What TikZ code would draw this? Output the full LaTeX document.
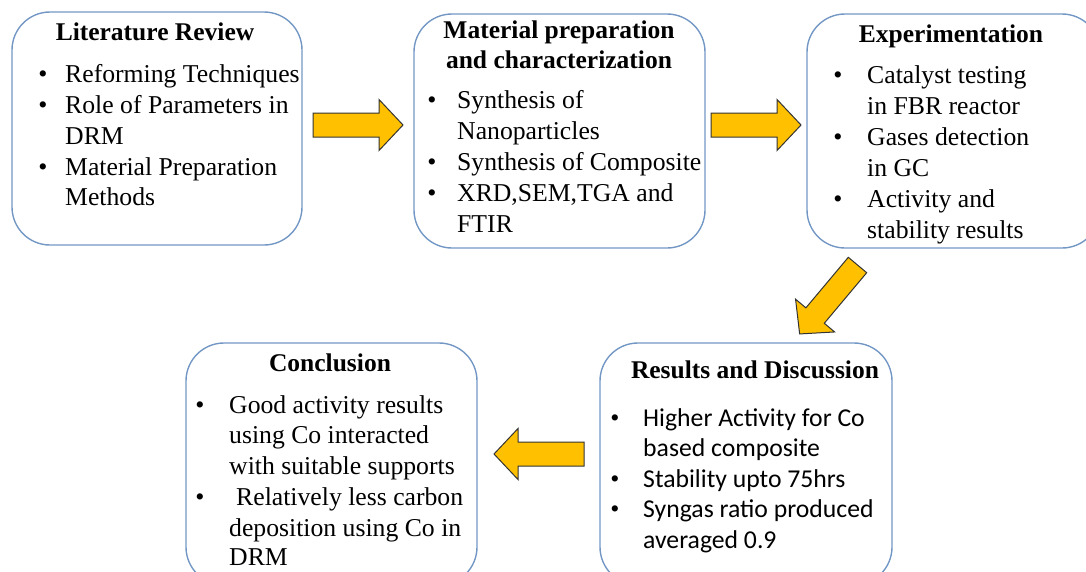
\documentclass[tikz,border=0pt]{standalone}
\usepackage{fontspec}
\setmainfont{Liberation Serif}
\newfontfamily\calibri{Carlito}
\usetikzlibrary{positioning}

\definecolor{boxblue}{HTML}{7397C4}
\definecolor{arrowgold}{HTML}{FFC000}

\tikzset{
  stage/.style={draw=boxblue, line width=1.4pt, rounded corners=38pt, inner sep=0pt},
  title/.style={font=\fontsize{25.5}{31}\selectfont\bfseries, anchor=base, inner sep=0pt},
  item/.style={font=\fontsize{25.7}{31}\selectfont, anchor=base west, inner sep=0pt},
  sitem/.style={font=\fontsize{25.7}{31}\selectfont\calibri, anchor=base west, inner sep=0pt},
  dot/.style={font=\fontsize{26}{31}\selectfont, anchor=base, inner sep=0pt},
  fatarrow/.pic={
    \draw[fill=arrowgold, draw=black!80, line width=1pt, line join=miter]
      (0,-12) -- (66,-12) -- (66,-25.5) -- (90,0) -- (66,25.5) -- (66,12) -- (0,12) -- cycle;
  }
}

\begin{document}
\begin{tikzpicture}[x=1pt, y=-1pt]
\useasboundingbox (0,0) rectangle (1086,571);

% --- Stage boxes ---
\node[stage, minimum width=290pt, minimum height=233pt] (litrev) at (157,128.5) {};
\node[stage, minimum width=291pt, minimum height=234pt] (matprep) at (559.5,131) {};
\node[stage, minimum width=293pt, minimum height=234pt] (expt) at (953.5,131) {};
\node[stage, minimum width=292pt, minimum height=242pt] (results) at (746,464) {};
\node[stage, minimum width=291pt, minimum height=242pt] (concl) at (331.5,464) {};

% --- Literature Review ---
\node[title] (t1) at (155,40) {Literature Review};
\node[dot] (d11) at (43,82) {•};
\node[item] (l11) at (65,82) {Reforming Techniques};
\node[dot] (d12) at (43,113) {•};
\node[item] (l12) at (65,113) {Role of Parameters in};
\node[item] (l13) at (65,144) {DRM};
\node[dot] (d13) at (43,175) {•};
\node[item] (l14) at (65,175) {Material Preparation};
\node[item] (l15) at (65,205) {Methods};

% --- Material preparation ---
\node[title] (t2a) at (559,38) {Material preparation};
\node[title] (t2b) at (559,68) {and characterization};
\node[dot] (d21) at (432,108) {•};
\node[item] (l21) at (457,108) {Synthesis of};
\node[item] (l22) at (457,139) {Nanoparticles};
\node[dot] (d22) at (432,170) {•};
\node[item] (l23) at (457,170) {Synthesis of Composite};
\node[dot] (d23) at (432,201) {•};
\node[item] (l24) at (457,201) {XRD,SEM,TGA and};
\node[item] (l25) at (457,232) {FTIR};

% --- Experimentation ---
\node[title] (t3) at (951,42) {Experimentation};
\node[dot] (d31) at (838,83) {•};
\node[item] (l31) at (867,83) {Catalyst testing};
\node[item] (l32) at (867,114) {in FBR reactor};
\node[dot] (d32) at (838,145) {•};
\node[item] (l33) at (867,145) {Gases detection};
\node[item] (l34) at (867,176) {in GC};
\node[dot] (d33) at (838,207) {•};
\node[item] (l35) at (867,207) {Activity and};
\node[item] (l36) at (867,238) {stability results};

% --- Results and Discussion ---
\node[title] (t4) at (755,378) {Results and Discussion};
\node[dot] (d41) at (615,426) {•};
\node[sitem] (l41) at (643,426) {Higher Activity for Co};
\node[sitem] (l42) at (643,456) {based composite};
\node[dot] (d42) at (615,487) {•};
\node[sitem] (l43) at (643,487) {Stability upto 75hrs};
\node[dot] (d43) at (615,517) {•};
\node[sitem] (l44) at (643,517) {Syngas ratio produced};
\node[sitem] (l45) at (643,548) {averaged 0.9};

% --- Conclusion ---
\node[title] (t5) at (330,371) {Conclusion};
\node[dot] (d51) at (200,413) {•};
\node[item] (l51) at (229,413) {Good activity results};
\node[item] (l52) at (229,443) {using Co interacted};
\node[item] (l53) at (229,474) {with suitable supports};
\node[dot] (d52) at (200,505) {•};
\node[item] (l54) at (236,505) {Relatively less carbon};
\node[item] (l55) at (229,536) {deposition using Co in};
\node[item] (l56) at (229,565) {DRM};

% --- Block arrows ---
\pic (a1) at (313,125) {fatarrow};
\pic (a2) at (711,125) {fatarrow};
\pic[rotate=230] (a3) at (857.5,265) {fatarrow};
\pic[rotate=180] (a4) at (584,454) {fatarrow};

\end{tikzpicture}
\end{document}
